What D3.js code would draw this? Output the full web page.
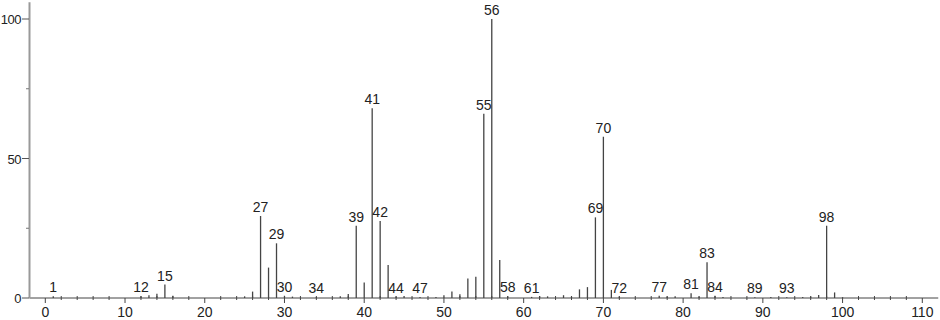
<!DOCTYPE html>
<html lang="en">
<head>
  <meta charset="UTF-8">
  <title>Mass spectrum</title>
  <script src="https://d3js.org/d3.v7.min.js"></script>
  <style>
    body {
      margin: 0;
      background: #fff;
    }
    svg text {
      font-family: "Liberation Sans", Arial, sans-serif;
      fill: #222;
    }
  </style>
</head>
<body>
  <svg id="spectrum" width="940" height="320"></svg>
  <script>
    // m/z values and relative intensities
    const mz = [1, 12, 13, 14, 15, 16, 25, 26, 27, 28, 29, 30, 31, 34, 37, 38, 39, 40, 41, 42,
      43, 44, 45, 47, 49, 50, 51, 52, 53, 54, 55, 56, 57, 58, 61, 62, 63, 65, 66, 67,
      68, 69, 70, 71, 72, 77, 78, 79, 81, 82, 83, 84, 85, 89, 91, 93, 95, 96, 97, 98, 99, 100];
    const intensity = [0.6, 0.6, 1.0, 1.5, 4.8, 0.8, 0.6, 2.3, 29.4, 10.9, 19.6, 0.8, 0.5, 0.3, 0.6, 1.4, 25.9, 5.6, 68.0, 27.6,
      11.8, 0.5, 0.7, 0.4, 0.4, 1.0, 2.3, 1.3, 7.0, 7.6, 66.0, 100, 13.6, 0.6, 0.4, 0.7, 0.6, 1.0, 0.5, 3.1,
      3.9, 28.9, 57.8, 2.9, 0.5, 0.8, 0.5, 0.6, 1.7, 0.5, 12.8, 0.8, 0.4, 0.3, 0.4, 0.3, 0.4, 0.5, 1.1, 25.9, 2.0, 0.3];
    const labelled = [1, 12, 15, 27, 29, 30, 34, 39, 41, 42, 44, 47, 55, 56, 58, 61, 69, 70, 72, 77, 81, 83, 84, 89, 93, 98];
    const xTicks = [0, 10, 20, 30, 40, 50, 60, 70, 80, 90, 100, 110];
    const yTicks = [0, 50, 100];

    const peaks = mz.map((m, i) => ({ m: m, v: intensity[i] }));

    const svg = d3.select("#spectrum");
    const x = d3.scaleLinear().domain([0, 110]).range([45.3, 922.3]);
    const y = d3.scaleLinear().domain([0, 100]).range([298, 19]);

    // x axis line
    svg.append("line")
      .attr("x1", x(-2)).attr("x2", x(112))
      .attr("y1", y(0)).attr("y2", y(0))
      .attr("stroke", "#444").attr("stroke-width", 1);

    // minor x ticks every 2
    svg.selectAll(".xminor")
      .data(d3.range(0, 112, 2).filter(d => d % 10 !== 0))
      .enter().append("line")
      .attr("x1", d => x(d)).attr("x2", d => x(d))
      .attr("y1", y(0) - 2).attr("y2", y(0) + 2)
      .attr("stroke", "#444");

    // major x ticks + labels
    svg.selectAll(".xmajor")
      .data(xTicks)
      .enter().append("line")
      .attr("x1", d => x(d)).attr("x2", d => x(d))
      .attr("y1", y(0)).attr("y2", y(0) + 5)
      .attr("stroke", "#444");

    svg.selectAll(".xlabel")
      .data(xTicks)
      .enter().append("text")
      .attr("x", d => x(d))
      .attr("y", 317)
      .attr("text-anchor", "middle")
      .attr("font-size", 14)
      .text(d => d);

    // y axis
    svg.append("line")
      .attr("x1", 29.5).attr("x2", 29.5)
      .attr("y1", y(106)).attr("y2", y(0))
      .attr("stroke", "#999").attr("stroke-width", 2);

    svg.selectAll(".yminor")
      .data([25, 75])
      .enter().append("line")
      .attr("x1", 26).attr("x2", 29)
      .attr("y1", d => y(d)).attr("y2", d => y(d))
      .attr("stroke", "#777");

    svg.selectAll(".ymajor")
      .data(yTicks)
      .enter().append("line")
      .attr("x1", 22).attr("x2", 29)
      .attr("y1", d => y(d)).attr("y2", d => y(d))
      .attr("stroke", "#555");

    svg.selectAll(".ylabel")
      .data(yTicks)
      .enter().append("text")
      .attr("x", 21)
      .attr("y", d => y(d) + 5)
      .attr("text-anchor", "end")
      .attr("font-size", 13)
      .attr("letter-spacing", -0.5)
      .text(d => d);

    // peaks
    svg.selectAll(".peak")
      .data(peaks)
      .enter().append("line")
      .attr("x1", d => x(d.m)).attr("x2", d => x(d.m))
      .attr("y1", y(0)).attr("y2", d => y(d.v))
      .attr("stroke", "#444").attr("stroke-width", 1.3);

    // peak labels
    svg.selectAll(".plabel")
      .data(peaks.filter(d => labelled.includes(d.m)))
      .enter().append("text")
      .attr("x", d => x(d.m))
      .attr("y", d => y(d.v) - 4)
      .attr("text-anchor", "middle")
      .attr("font-size", 14)
      .text(d => d.m);
  </script>
</body>
</html>
